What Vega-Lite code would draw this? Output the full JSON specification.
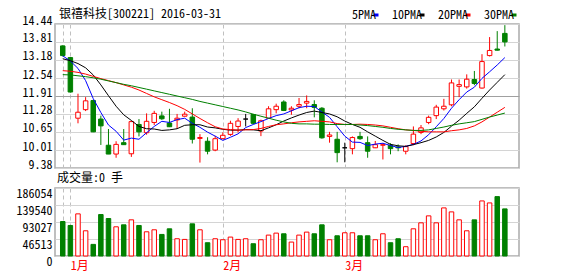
{
  "$schema": "https://vega.github.io/schema/vega-lite/v6.json",
  "background": "white",
  "padding": {"left": 15, "top": 7, "right": 4, "bottom": 2},
  "spacing": 0,
  "config": {
    "view": {"stroke": "#aaaaaa", "strokeWidth": 1.5},
    "axis": {"labelFont": "Noto Sans Mono CJK SC, Noto Sans CJK SC", "labelFontSize": 12, "labelColor": "#000000", "ticks": false, "domain": false, "labelFlush": false, "labelOverlap": false, "labelBound": false},
    "title": {"font": "Noto Sans Mono CJK SC, Noto Sans CJK SC", "fontSize": 12, "fontWeight": "normal", "color": "#000000", "anchor": "start", "frame": "group"},
    "legend": {"labelFont": "Noto Sans Mono CJK SC, Noto Sans CJK SC", "labelFontSize": 12, "labelColor": "#000000"}
  },
  "data": {"values": [
    {"i":0,"o":13.67,"h":13.69,"l":13.30,"c":13.33,"v":94390,"ma5":13.32,"ma10":13.22,"ma20":12.80,"ma30":12.66},
    {"i":1,"o":13.26,"h":13.28,"l":12.03,"c":12.05,"v":83500,"ma5":13.14,"ma10":13.15,"ma20":12.78,"ma30":12.65},
    {"i":2,"o":11.13,"h":11.99,"l":10.95,"c":11.34,"v":115265,"ma5":12.88,"ma10":13.05,"ma20":12.74,"ma30":12.62},
    {"i":3,"o":11.43,"h":11.87,"l":11.38,"c":11.74,"v":68980,"ma5":12.45,"ma10":12.90,"ma20":12.68,"ma30":12.59},
    {"i":4,"o":11.75,"h":11.78,"l":10.64,"c":10.65,"v":31770,"ma5":11.82,"ma10":12.65,"ma20":12.60,"ma30":12.55},
    {"i":5,"o":11.10,"h":11.22,"l":10.19,"c":10.86,"v":113450,"ma5":11.33,"ma10":12.30,"ma20":12.52,"ma30":12.50},
    {"i":6,"o":10.18,"h":10.75,"l":9.87,"c":9.87,"v":102560,"ma5":10.89,"ma10":11.92,"ma20":12.45,"ma30":12.44},
    {"i":7,"o":9.87,"h":10.32,"l":9.74,"c":10.21,"v":79870,"ma5":10.67,"ma10":11.55,"ma20":12.38,"ma30":12.38},
    {"i":8,"o":10.27,"h":10.75,"l":10.19,"c":10.20,"v":85310,"ma5":10.36,"ma10":11.25,"ma20":12.30,"ma30":12.32},
    {"i":9,"o":9.88,"h":11.04,"l":9.77,"c":11.01,"v":98930,"ma5":10.43,"ma10":11.05,"ma20":12.22,"ma30":12.27},
    {"i":10,"o":10.91,"h":11.10,"l":10.49,"c":10.65,"v":83500,"ma5":10.39,"ma10":10.84,"ma20":12.12,"ma30":12.21},
    {"i":11,"o":10.62,"h":11.30,"l":10.55,"c":11.02,"v":66250,"ma5":10.62,"ma10":10.76,"ma20":12.00,"ma30":12.15},
    {"i":12,"o":10.98,"h":11.39,"l":10.89,"c":11.30,"v":71700,"ma5":10.84,"ma10":10.75,"ma20":11.88,"ma30":12.09},
    {"i":13,"o":11.21,"h":11.36,"l":11.07,"c":11.11,"v":59000,"ma5":11.02,"ma10":10.70,"ma20":11.78,"ma30":12.03},
    {"i":14,"o":10.96,"h":11.46,"l":10.82,"c":10.83,"v":74420,"ma5":10.98,"ma10":10.72,"ma20":11.68,"ma30":11.97},
    {"i":15,"o":11.07,"h":11.28,"l":10.75,"c":11.13,"v":47200,"ma5":11.08,"ma10":10.76,"ma20":11.57,"ma30":11.91},
    {"i":16,"o":11.20,"h":11.36,"l":11.19,"c":11.27,"v":45380,"ma5":11.13,"ma10":10.88,"ma20":11.44,"ma30":11.85},
    {"i":17,"o":11.17,"h":11.48,"l":10.24,"c":10.39,"v":88040,"ma5":10.95,"ma10":10.90,"ma20":11.28,"ma30":11.79},
    {"i":18,"o":10.42,"h":10.57,"l":9.57,"c":10.45,"v":71700,"ma5":10.81,"ma10":10.90,"ma20":11.12,"ma30":11.72},
    {"i":19,"o":10.32,"h":10.46,"l":9.86,"c":9.97,"v":36300,"ma5":10.64,"ma10":10.82,"ma20":10.97,"ma30":11.66},
    {"i":20,"o":10.01,"h":10.51,"l":9.97,"c":10.41,"v":47200,"ma5":10.50,"ma10":10.79,"ma20":10.83,"ma30":11.60},
    {"i":21,"o":10.41,"h":10.63,"l":10.39,"c":10.53,"v":44470,"ma5":10.35,"ma10":10.74,"ma20":10.75,"ma30":11.54},
    {"i":22,"o":10.56,"h":11.04,"l":10.51,"c":10.95,"v":51730,"ma5":10.46,"ma10":10.71,"ma20":10.73,"ma30":11.48},
    {"i":23,"o":10.84,"h":11.13,"l":10.63,"c":11.03,"v":45380,"ma5":10.58,"ma10":10.71,"ma20":10.71,"ma30":11.42},
    {"i":24,"o":11.10,"h":11.28,"l":10.84,"c":11.10,"v":47200,"ma5":10.80,"ma10":10.73,"ma20":10.72,"ma30":11.35},
    {"i":25,"o":11.26,"h":11.28,"l":10.92,"c":10.95,"v":33580,"ma5":10.91,"ma10":10.72,"ma20":10.73,"ma30":11.27},
    {"i":26,"o":10.68,"h":11.08,"l":10.50,"c":11.04,"v":44470,"ma5":11.01,"ma10":10.69,"ma20":10.77,"ma30":11.20},
    {"i":27,"o":11.13,"h":11.55,"l":11.11,"c":11.46,"v":57180,"ma5":11.12,"ma10":10.79,"ma20":10.84,"ma30":11.13},
    {"i":28,"o":11.43,"h":11.64,"l":11.30,"c":11.55,"v":62620,"ma5":11.22,"ma10":10.90,"ma20":10.90,"ma30":11.06},
    {"i":29,"o":11.70,"h":11.76,"l":11.38,"c":11.40,"v":60810,"ma5":11.28,"ma10":11.03,"ma20":10.93,"ma30":11.00},
    {"i":30,"o":11.42,"h":11.55,"l":11.25,"c":11.48,"v":38120,"ma5":11.39,"ma10":11.14,"ma20":10.97,"ma30":10.95},
    {"i":31,"o":11.55,"h":11.84,"l":11.48,"c":11.61,"v":57180,"ma5":11.50,"ma10":11.24,"ma20":11.00,"ma30":10.93},
    {"i":32,"o":11.66,"h":11.93,"l":11.48,"c":11.72,"v":65350,"ma5":11.55,"ma10":11.33,"ma20":11.02,"ma30":10.93},
    {"i":33,"o":11.61,"h":11.76,"l":11.16,"c":11.51,"v":60810,"ma5":11.54,"ma10":11.38,"ma20":11.04,"ma30":10.92},
    {"i":34,"o":11.48,"h":11.52,"l":10.41,"c":10.44,"v":85310,"ma5":11.35,"ma10":11.33,"ma20":11.02,"ma30":10.92},
    {"i":35,"o":10.49,"h":10.65,"l":10.27,"c":10.54,"v":44470,"ma5":11.16,"ma10":11.28,"ma20":11.00,"ma30":10.91},
    {"i":36,"o":10.39,"h":10.65,"l":9.58,"c":9.92,"v":55360,"ma5":10.83,"ma10":11.18,"ma20":10.94,"ma30":10.91},
    {"i":37,"o":10.09,"h":10.27,"l":9.58,"c":10.09,"v":63530,"ma5":10.50,"ma10":11.03,"ma20":10.91,"ma30":10.91},
    {"i":38,"o":10.06,"h":10.49,"l":9.86,"c":10.45,"v":63530,"ma5":10.29,"ma10":10.91,"ma20":10.91,"ma30":10.91},
    {"i":39,"o":10.49,"h":10.65,"l":10.37,"c":10.41,"v":55360,"ma5":10.28,"ma10":10.81,"ma20":10.92,"ma30":10.89},
    {"i":40,"o":10.27,"h":10.49,"l":9.74,"c":9.97,"v":55360,"ma5":10.17,"ma10":10.65,"ma20":10.91,"ma30":10.87},
    {"i":41,"o":10.09,"h":10.33,"l":10.08,"c":10.20,"v":44470,"ma5":10.22,"ma10":10.50,"ma20":10.89,"ma30":10.84},
    {"i":42,"o":10.18,"h":10.25,"l":9.68,"c":10.20,"v":60810,"ma5":10.25,"ma10":10.35,"ma20":10.86,"ma30":10.81},
    {"i":43,"o":10.18,"h":10.25,"l":9.86,"c":10.06,"v":36300,"ma5":10.17,"ma10":10.21,"ma20":10.81,"ma30":10.77},
    {"i":44,"o":10.12,"h":10.21,"l":9.97,"c":10.09,"v":47200,"ma5":10.10,"ma10":10.16,"ma20":10.76,"ma30":10.74},
    {"i":45,"o":9.97,"h":10.18,"l":9.86,"c":10.13,"v":25410,"ma5":10.14,"ma10":10.14,"ma20":10.72,"ma30":10.72},
    {"i":46,"o":10.24,"h":10.84,"l":10.18,"c":10.57,"v":74420,"ma5":10.21,"ma10":10.20,"ma20":10.70,"ma30":10.70},
    {"i":47,"o":10.63,"h":10.89,"l":10.57,"c":10.79,"v":90760,"ma5":10.33,"ma10":10.27,"ma20":10.67,"ma30":10.70},
    {"i":48,"o":10.98,"h":11.22,"l":10.92,"c":11.16,"v":109820,"ma5":10.55,"ma10":10.35,"ma20":10.65,"ma30":10.72},
    {"i":49,"o":11.22,"h":11.60,"l":11.10,"c":11.52,"v":90760,"ma5":10.83,"ma10":10.47,"ma20":10.65,"ma30":10.77},
    {"i":50,"o":11.46,"h":11.81,"l":11.40,"c":11.55,"v":131600,"ma5":11.12,"ma10":10.63,"ma20":10.65,"ma30":10.82},
    {"i":51,"o":11.60,"h":12.49,"l":11.55,"c":12.37,"v":120710,"ma5":11.48,"ma10":10.85,"ma20":10.69,"ma30":10.88},
    {"i":52,"o":12.25,"h":12.49,"l":11.87,"c":12.31,"v":98930,"ma5":11.78,"ma10":11.06,"ma20":10.72,"ma30":10.93},
    {"i":53,"o":12.23,"h":12.67,"l":12.17,"c":12.50,"v":68980,"ma5":12.05,"ma10":11.30,"ma20":10.77,"ma30":10.97},
    {"i":54,"o":12.49,"h":12.79,"l":12.29,"c":12.35,"v":98930,"ma5":12.22,"ma10":11.53,"ma20":10.86,"ma30":11.01},
    {"i":55,"o":12.19,"h":13.38,"l":12.17,"c":13.12,"v":150660,"ma5":12.53,"ma10":11.83,"ma20":11.00,"ma30":11.09},
    {"i":56,"o":13.33,"h":13.98,"l":13.30,"c":13.51,"v":145220,"ma5":12.76,"ma10":12.12,"ma20":11.17,"ma30":11.17},
    {"i":57,"o":13.56,"h":14.19,"l":13.51,"c":13.52,"v":162460,"ma5":13.00,"ma10":12.39,"ma20":11.34,"ma30":11.24},
    {"i":58,"o":14.11,"h":14.40,"l":13.65,"c":13.81,"v":128880,"ma5":13.26,"ma10":12.66,"ma20":11.51,"ma30":11.31}
  ]},
  "vconcat": [
    {
      "width": 464,
      "height": 144,
      "title": {"text": "银禧科技[300221] 2016-03-31", "offset": -7, "dx": 4},
      "layer": [
        {
          "mark": {"type": "rule", "strokeWidth": 1},
          "encoding": {
            "x": {"field": "i", "type": "quantitative", "title": null,
                  "scale": {"domain": [-0.36, 59.2], "nice": false, "zero": false},
                  "axis": {"values": [0, 1, 21, 37], "labels": false, "grid": true, "gridDash": [4, 3], "gridColor": "#c0c0c0"}},
            "y": {"field": "l", "type": "quantitative", "title": null,
                  "scale": {"domain": [9.38, 14.44], "nice": false, "zero": false},
                  "axis": {"values": [9.38, 10.01, 10.65, 11.28, 11.91, 12.54, 13.18, 13.81, 14.44], "format": ".2f",
                           "labelBaseline": "alphabetic", "labelPadding": 3, "labelOverlap": false, "grid": true,
                           "gridColor": {"condition": {"test": "datum.value == 11.91", "value": "#a0a0a0"}, "value": "#d4d4d4"}}},
            "y2": {"field": "h"},
            "color": {"condition": [{"test": "datum.c > datum.o", "value": "#ff0000"}, {"test": "datum.c < datum.o", "value": "#008000"}], "value": "#000000"}
          }
        },
        {
          "mark": {"type": "bar", "width": 4.5, "strokeWidth": 1},
          "encoding": {
            "x": {"field": "i", "type": "quantitative", "title": null,
                  "axis": {"values": [0, 1, 21, 37], "labels": false, "grid": true, "gridDash": [4, 3], "gridColor": "#c0c0c0"}},
            "y": {"field": "o", "type": "quantitative", "title": null,
                  "axis": {"values": [9.38, 10.01, 10.65, 11.28, 11.91, 12.54, 13.18, 13.81, 14.44], "format": ".2f",
                           "labelBaseline": "alphabetic", "labelPadding": 3, "labelOverlap": false, "grid": true,
                           "gridColor": {"condition": {"test": "datum.value == 11.91", "value": "#a0a0a0"}, "value": "#d4d4d4"}}},
            "y2": {"field": "c"},
            "fill": {"condition": [{"test": "datum.c > datum.o", "value": "#ffffff"}, {"test": "datum.c < datum.o", "value": "#008000"}], "value": "#000000"},
            "stroke": {"condition": [{"test": "datum.c > datum.o", "value": "#ff0000"}, {"test": "datum.c < datum.o", "value": "#008000"}], "value": "#000000"}
          }
        },
        {
          "transform": [{"fold": ["ma5", "ma10", "ma20", "ma30"], "as": ["ma", "val"]}],
          "mark": {"type": "line", "strokeWidth": 1},
          "encoding": {
            "x": {"field": "i", "type": "quantitative", "title": null,
                  "axis": {"values": [0, 1, 21, 37], "labels": false, "grid": true, "gridDash": [4, 3], "gridColor": "#c0c0c0"}},
            "y": {"field": "val", "type": "quantitative", "title": null,
                  "axis": {"values": [9.38, 10.01, 10.65, 11.28, 11.91, 12.54, 13.18, 13.81, 14.44], "format": ".2f",
                           "labelBaseline": "alphabetic", "labelPadding": 3, "labelOverlap": false, "grid": true,
                           "gridColor": {"condition": {"test": "datum.value == 11.91", "value": "#a0a0a0"}, "value": "#d4d4d4"}}},
            "color": {"field": "ma", "type": "nominal",
                      "scale": {"domain": ["ma5", "ma10", "ma20", "ma30"], "range": ["#0000ff", "#000000", "#ff0000", "#008000"]},
                      "legend": {"orient": "none", "legendX": 315, "legendY": -15, "direction": "horizontal", "title": null,
                                 "symbolType": "stroke", "symbolSize": 25, "symbolStrokeWidth": 3,
                                 "labelAlign": "right", "labelOffset": -6, "columnPadding": 6,
                                 "labelExpr": "replace(datum.label, 'ma', '') + 'PMA'"}}
          }
        }
      ]
    },
    {
      "width": 464,
      "height": 68,
      "title": {"text": "成交量:0 手", "offset": 2, "dx": 2},
      "mark": {"type": "bar", "width": 4.5, "strokeWidth": 1},
      "encoding": {
        "x": {"field": "i", "type": "quantitative", "title": null,
              "scale": {"domain": [-0.36, 59.2], "nice": false, "zero": false},
              "axis": {"values": [0, 1, 21, 37], "labelExpr": "datum.value == 1 ? '1月' : datum.value == 21 ? '2月' : datum.value == 37 ? '3月' : ''",
                       "labelColor": "#ff0000", "labelAlign": "left", "labelDx": -1, "labelPadding": 4,
                       "grid": true, "gridDash": [4, 3], "gridColor": "#c0c0c0"}},
        "y": {"field": "v", "type": "quantitative", "title": null, "stack": null,
              "scale": {"domain": [0, 186054], "nice": false},
              "axis": {"values": [0, 46513, 93027, 139540, 186054], "format": "d", "labelBaseline": "top", "labelPadding": 3,
                       "grid": true, "gridColor": "#d4d4d4"}},
        "fill": {"condition": {"test": "datum.c < datum.o", "value": "#008000"}, "value": "#ffffff"},
        "stroke": {"condition": {"test": "datum.c < datum.o", "value": "#008000"}, "value": "#ff0000"}
      }
    }
  ]
}
